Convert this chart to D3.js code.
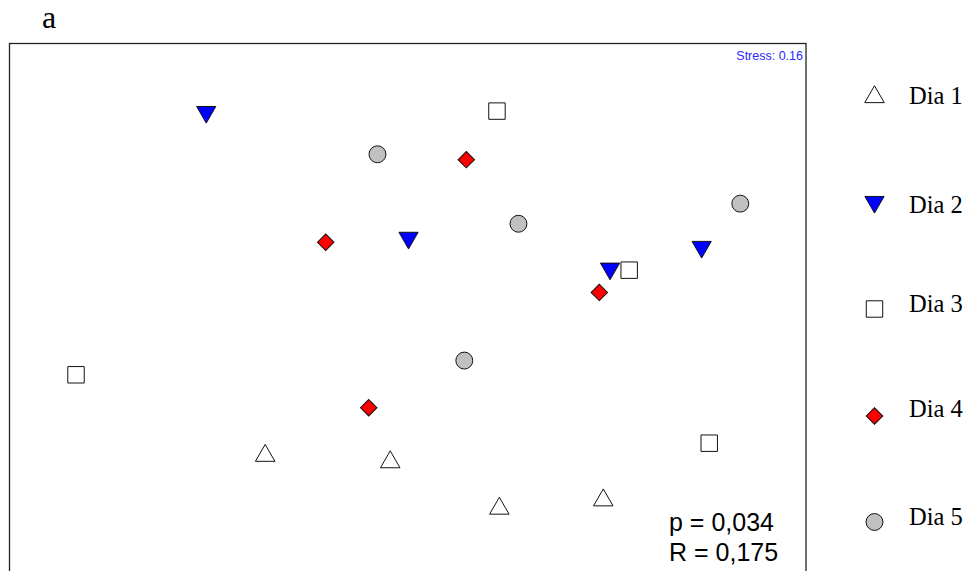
<!DOCTYPE html>
<html>
<head>
<meta charset="utf-8">
<script src="https://cdn.jsdelivr.net/npm/d3@7"></script>
<style>
  html, body { margin: 0; padding: 0; background: #fff; }
  svg { display: block; }
</style>
</head>
<body>
<svg id="chart" width="968" height="571"></svg>
<script>
// ---- Data (NMDS coordinates) ----
const groups = ["Dia 1", "Dia 2", "Dia 3", "Dia 4", "Dia 5"];
const dia1 = [[-0.358, -0.531], [-0.044, -0.555], [0.230, -0.728], [0.491, -0.697]];
const dia2 = [[-0.506, 0.739], [0.002, 0.270], [0.508, 0.155], [0.738, 0.236]];
const dia3 = [[0.224, 0.748], [0.556, 0.155], [-0.833, -0.235], [0.757, -0.490]];
const dia4 = [[0.147, 0.567], [-0.206, 0.259], [0.481, 0.072], [-0.098, -0.358]];
const dia5 = [[-0.076, 0.587], [0.278, 0.328], [0.835, 0.403], [0.142, -0.182]];
const seriesValues = [dia1, dia2, dia3, dia4, dia5];
const stressLabel = "Stress: 0.16";
const statLabels = ["p = 0,034", "R = 0,175"];
const panelLabel = "a";

// ---- Styles ----
const styles = [
  { type: d3.symbolTriangle, fill: "#ffffff", rotate: 0, size: 165 },
  { type: d3.symbolTriangle, fill: "#0000ff", rotate: 180, size: 160 },
  { type: d3.symbolSquare, fill: "#ffffff", rotate: 0, size: 270 },
  { type: d3.symbolSquare, fill: "#ff0000", rotate: 45, size: 135 },
  { type: d3.symbolCircle, fill: "#c0c0c0", rotate: 0, size: 225 }
];

const svg = d3.select("#chart");
const box = { left: 9.5, top: 43.5, right: 806, bottom: 580 };

const x = d3.scaleLinear().domain([-1, 1]).range([box.left, box.right]);
const y = d3.scaleLinear().domain([-1, 1]).range([box.bottom, box.top]);

// frame
svg.append("rect")
  .attr("x", box.left).attr("y", box.top)
  .attr("width", box.right - box.left).attr("height", box.bottom - box.top)
  .attr("fill", "none").attr("stroke", "#222").attr("stroke-width", 1.3);

// panel label
svg.append("text").attr("x", 42).attr("y", 28)
  .attr("font-family", "'Liberation Serif', 'Times New Roman', serif")
  .attr("font-size", 32).text(panelLabel);

// stress
svg.append("text").attr("x", 803).attr("y", 60)
  .attr("text-anchor", "end")
  .attr("font-family", "'Liberation Sans', Arial, sans-serif")
  .attr("font-size", 12.5).attr("fill", "#2a2aff").text(stressLabel);

// points
seriesValues.forEach((pts, gi) => {
  const st = styles[gi];
  svg.append("g").selectAll("path").data(pts).enter().append("path")
    .attr("d", d3.symbol().type(st.type).size(st.size))
    .attr("transform", d => {
      const dy = st.type === d3.symbolTriangle ? (st.rotate ? -1 : 1) * 1.5 : 0;
      return `translate(${x(d[0])},${y(d[1]) + dy}) rotate(${st.rotate})`;
    })
    .attr("fill", st.fill).attr("stroke", "#111").attr("stroke-width", 1);
});

// stats text
statLabels.forEach((t, i) => {
  svg.append("text").attr("x", 669).attr("y", 531 + i * 30)
    .attr("font-family", "'Liberation Sans', Arial, sans-serif")
    .attr("font-size", 25).attr("fill", "#000").text(t);
});

// legend (layout)
const legendTextY = [104, 213, 312, 417, 525];
const legendSymY = [97, 202, 309, 416, 522];
groups.forEach((g, i) => {
  const st = styles[i];
  svg.append("path")
    .attr("d", d3.symbol().type(st.type).size(st.size))
    .attr("transform", `translate(874.5,${legendSymY[i]}) rotate(${st.rotate})`)
    .attr("fill", st.fill).attr("stroke", "#111").attr("stroke-width", 1);
  svg.append("text").attr("x", 909).attr("y", legendTextY[i])
    .attr("font-family", "'Liberation Serif', 'Times New Roman', serif")
    .attr("font-size", 24.5).attr("fill", "#000").text(g);
});
</script>
</body>
</html>
